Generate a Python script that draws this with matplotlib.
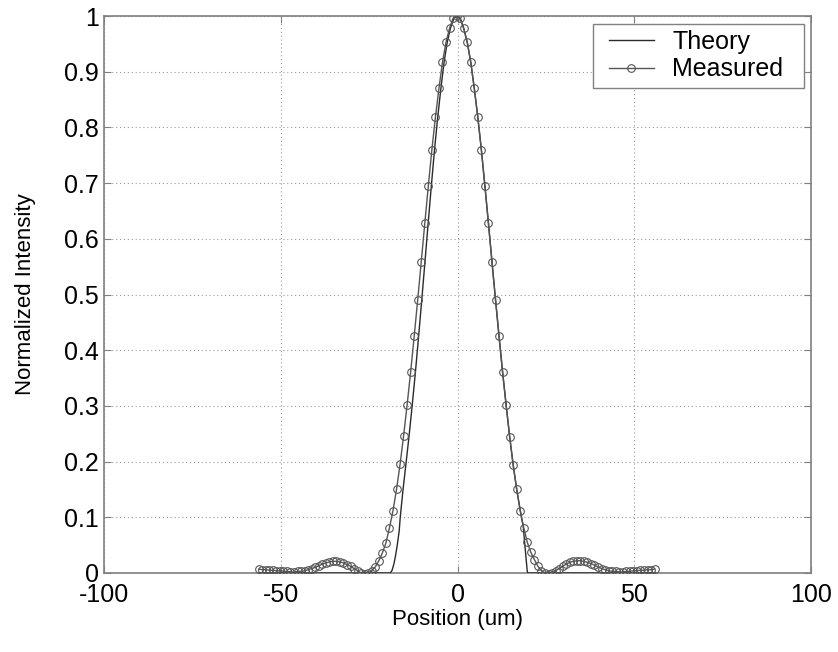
import numpy as np
import matplotlib
matplotlib.use("Agg")
import matplotlib.pyplot as plt
from matplotlib.lines import Line2D
from matplotlib.legend_handler import HandlerLine2D

plt.rcParams['font.family'] = ['Liberation Sans', 'DejaVu Sans']
plt.rcParams['axes.unicode_minus'] = False

# Measured profile: sample positions (um) and normalized intensity
meas_x = [-56.25, -55.25, -54.25, -53.25, -52.25, -51.25, -50.25, -49.25, -48.25, -47.25,
          -46.25, -45.25, -44.25, -43.25, -42.25, -41.25, -40.25, -39.25, -38.25, -37.25,
          -36.25, -35.25, -34.25, -33.25, -32.25, -31.25, -30.25, -29.25, -28.25, -27.25,
          -26.25, -25.25, -24.25, -23.25, -22.25, -21.25, -20.25, -19.25, -18.25, -17.25,
          -16.25, -15.25, -14.25, -13.25, -12.25, -11.25, -10.25, -9.25, -8.25, -7.25,
          -6.25, -5.25, -4.25, -3.25, -2.25, -1.25, -0.25, 0.75, 1.75, 2.75,
          3.75, 4.75, 5.75, 6.75, 7.75, 8.75, 9.75, 10.75, 11.75, 12.75,
          13.75, 14.75, 15.75, 16.75, 17.75, 18.75, 19.75, 20.75, 21.75, 22.75,
          23.75, 24.75, 25.75, 26.75, 27.75, 28.75, 29.75, 30.75, 31.75, 32.75,
          33.75, 34.75, 35.75, 36.75, 37.75, 38.75, 39.75, 40.75, 41.75, 42.75,
          43.75, 44.75, 45.75, 46.75, 47.75, 48.75, 49.75, 50.75, 51.75, 52.75,
          53.75, 54.75, 55.75]
meas_y = [0.007, 0.006, 0.006, 0.005, 0.005, 0.004, 0.004, 0.003, 0.003, 0.002,
          0.002, 0.003, 0.003, 0.004, 0.006, 0.008, 0.010, 0.013, 0.016, 0.018,
          0.020, 0.021, 0.021, 0.020, 0.018, 0.015, 0.012, 0.008, 0.004, 0.000,
          -0.002, 0.000, 0.004, 0.011, 0.022, 0.036, 0.054, 0.081, 0.112, 0.150,
          0.195, 0.246, 0.302, 0.361, 0.425, 0.491, 0.559, 0.628, 0.695, 0.760,
          0.818, 0.870, 0.917, 0.953, 0.978, 0.996, 1.000, 0.996, 0.978, 0.953,
          0.917, 0.870, 0.818, 0.760, 0.695, 0.628, 0.559, 0.491, 0.425, 0.361,
          0.302, 0.245, 0.194, 0.150, 0.112, 0.081, 0.055, 0.037, 0.024, 0.012,
          0.004, 0.000, -0.002, 0.000, 0.004, 0.008, 0.012, 0.016, 0.019, 0.021,
          0.022, 0.022, 0.021, 0.019, 0.017, 0.014, 0.011, 0.008, 0.006, 0.004,
          0.003, 0.003, 0.002, 0.002, 0.003, 0.003, 0.004, 0.004, 0.005, 0.005,
          0.006, 0.006, 0.007]

# Theory profile
theory_x = [-56.0, -19.0, -18.5, -18.0, -17.5, -17.0, -16.5, -16.2, -15.4, -14.6,
            -13.7, -12.8, -11.9, -11.0, -10.1, -9.2, -8.3, -7.4, -6.5, -5.6,
            -4.7, -3.8, -2.9, -2.0, -1.0, 0.0, 0.75, 1.75, 2.75, 3.75,
            4.75, 5.75, 6.75, 7.75, 8.75, 9.75, 10.75, 11.75, 12.75, 13.75,
            14.75, 15.75, 16.75, 17.75, 18.6, 19.2, 19.75, 20.0, 56.0]
theory_y = [0.0, 0.0, 0.005, 0.016, 0.032, 0.052, 0.075, 0.100, 0.150, 0.195,
            0.246, 0.302, 0.361, 0.425, 0.491, 0.559, 0.628, 0.695, 0.760, 0.818,
            0.870, 0.917, 0.953, 0.978, 0.996, 1.000, 0.996, 0.978, 0.953, 0.917,
            0.870, 0.818, 0.760, 0.695, 0.628, 0.559, 0.491, 0.425, 0.361, 0.302,
            0.245, 0.194, 0.150, 0.112, 0.083, 0.040, 0.002, 0.0, 0.0]

x_ticks = [-100, -50, 0, 50, 100]
y_ticks = [0, 0.1, 0.2, 0.3, 0.4, 0.5, 0.6, 0.7, 0.8, 0.9, 1]
y_tick_labels = ['0', '0.1', '0.2', '0.3', '0.4', '0.5', '0.6', '0.7', '0.8', '0.9', '1']

fig = plt.figure(figsize=(8.38, 6.52), dpi=100)
ax = fig.add_axes([104/838, 1 - 573/652, (811-104)/838, (573-16)/652])

ax.plot(theory_x, theory_y, color='#2a2a2a', lw=1.0, label='Theory', zorder=3)
ax.plot(meas_x, meas_y, color='#555555', lw=1.0, marker='o', markersize=5.5,
        markerfacecolor='none', markeredgecolor='#555555', markeredgewidth=0.8,
        label='Measured\u00a0\u00a0', zorder=4)

ax.set_xlim(-100, 100)
ax.set_ylim(0, 1)
ax.set_xticks(x_ticks)
ax.set_yticks(y_ticks)
ax.set_yticklabels(y_tick_labels)
ax.tick_params(direction='in', length=5, width=0.8, color='#808080',
               top=True, right=True, labelsize=18)
ax.tick_params(axis='x', pad=7)
ax.tick_params(axis='y', pad=3.5)
for s in ax.spines.values():
    s.set_color('#808080')
    s.set_linewidth(1.2)
ax.grid(True, linestyle=(0, (1, 2.5)), color='#999999', lw=0.8)
ax.set_axisbelow(True)

ax.set_xlabel('Position (um)', fontsize=16, labelpad=2)
ax.set_ylabel('Normalized Intensity', fontsize=16, labelpad=20)

leg = ax.legend(loc='upper right', fontsize=18, fancybox=False, framealpha=1,
                edgecolor='#808080', borderpad=0.25, handlelength=2.16,
                handletextpad=0.75, labelspacing=0.15, borderaxespad=0.3,
                handler_map={Line2D: HandlerLine2D(xpad=0.36)})
leg.get_frame().set_linewidth(1.0)

fig.savefig('out.png', dpi=100)
